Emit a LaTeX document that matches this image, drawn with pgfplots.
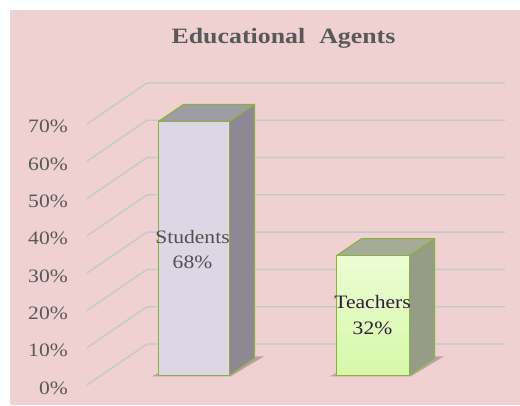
\documentclass[border=0pt]{standalone}
\usepackage{pgfplots}
\pgfplotsset{compat=1.18}
\usepackage{graphicx}
\usepackage{fontspec}
\setmainfont{Liberation Serif}

\definecolor{bgpink}{RGB}{238,209,208}
\definecolor{gridc}{RGB}{196,200,205}
\definecolor{txt}{RGB}{89,89,89}
\definecolor{outl}{RGB}{140,176,64}
\definecolor{sfront}{RGB}{221,215,229}
\definecolor{sside}{RGB}{141,136,147}
\definecolor{stop}{RGB}{160,156,164}
\definecolor{tfronttop}{RGB}{236,252,212}
\definecolor{tfrontbot}{RGB}{214,248,168}
\definecolor{tside}{RGB}{150,157,134}
\definecolor{ttop}{RGB}{166,171,151}
\definecolor{slab}{RGB}{80,80,80}
\definecolor{tlab}{RGB}{45,30,60}

\newcommand{\sx}[1]{\scalebox{1.14}[1]{#1}}

\begin{document}
\begin{tikzpicture}
\begin{axis}[
  x={(1bp,0bp)}, y={(60bp,41bp)}, z={(0bp,3.73bp)},
  xmin=0, xmax=520, ymin=0, ymax=1, zmin=-5.362, zmax=103.22,
  hide axis, clip=false,
]
% background
\fill[white] (axis cs:0,0,-5.362) rectangle (axis cs:520,0,103.22);
\fill[bgpink] (axis cs:10,0,-5.362) rectangle (axis cs:520,0,100.54);
\coordinate (bl) at (axis cs:0,0,-5.362);
\coordinate (tr) at (axis cs:520,0,103.22);

% grid lines (side wall diagonals + back wall)
\pgfplotsinvokeforeach{0,10,...,70}{
  \addplot3[gridc, line width=1.3bp] coordinates {(87,0,#1) (87,1,#1) (445,1,#1)};
}

% shadows
\addplot3[fill=black, opacity=0.22, draw=none] coordinates {(139,0.21,0) (218,0.21,0) (222,0.70,0) (150,0.70,0)} -- cycle;
\addplot3[fill=black, opacity=0.22, draw=none] coordinates {(317,0.21,0) (398,0.21,0) (402,0.70,0) (328,0.70,0)} -- cycle;

% Students bar: value 68
\addplot3[fill=sside, draw=outl, line width=1.1bp, line join=round] coordinates {(215,0.24,0) (215,0.66,0) (215,0.66,68) (215,0.24,68)} -- cycle;
\addplot3[fill=stop, draw=outl, line width=1.1bp, line join=round] coordinates {(144,0.24,68) (215,0.24,68) (215,0.66,68) (144,0.66,68)} -- cycle;
\addplot3[fill=sfront, draw=outl, line width=1.3bp, line join=round] coordinates {(144,0.24,0) (215,0.24,0) (215,0.24,68) (144,0.24,68)} -- cycle;

% Teachers bar: value 32
\addplot3[fill=tside, draw=outl, line width=1.1bp, line join=round] coordinates {(395,0.24,0) (395,0.66,0) (395,0.66,32) (395,0.24,32)} -- cycle;
\addplot3[fill=ttop, draw=outl, line width=1.1bp, line join=round] coordinates {(322,0.24,32) (395,0.24,32) (395,0.66,32) (322,0.66,32)} -- cycle;
\addplot3[top color=tfronttop, bottom color=tfrontbot, draw=outl, line width=1.3bp, line join=round] coordinates {(322,0.24,0) (395,0.24,0) (395,0.24,32) (322,0.24,32)} -- cycle;

% tick labels
\pgfplotsinvokeforeach{0,10,...,70}{
  \node[anchor=base east, inner sep=0pt, yshift=-9bp, text=txt, font=\fontsize{19}{23}\selectfont] at (axis cs:68,0,#1) {\sx{#1\%}};
}

% data labels
\node[anchor=base, inner sep=0pt, text=slab, font=\fontsize{19}{23}\selectfont] at (axis cs:192.5,0,38.07) {\sx{Students}};
\node[anchor=base, inner sep=0pt, text=slab, font=\fontsize{19}{23}\selectfont] at (axis cs:192.5,0,31.37) {\sx{68\%}};
\node[anchor=base, inner sep=0pt, text=tlab, font=\fontsize{19}{23}\selectfont] at (axis cs:372.5,0,20.64) {\sx{Teachers}};
\node[anchor=base, inner sep=0pt, text=tlab, font=\fontsize{19}{23}\selectfont] at (axis cs:372.5,0,13.67) {\sx{32\%}};

% title
\node[anchor=base, inner sep=0pt, text=txt, font=\fontsize{22}{26}\selectfont\bfseries] at (axis cs:283.5,0,91.69) {\scalebox{1.18}[1]{Educational}\hspace{14bp}\scalebox{1.18}[1]{Agents}};
\end{axis}
\pgfresetboundingbox
\useasboundingbox (bl) rectangle (tr);
\end{tikzpicture}
\end{document}
